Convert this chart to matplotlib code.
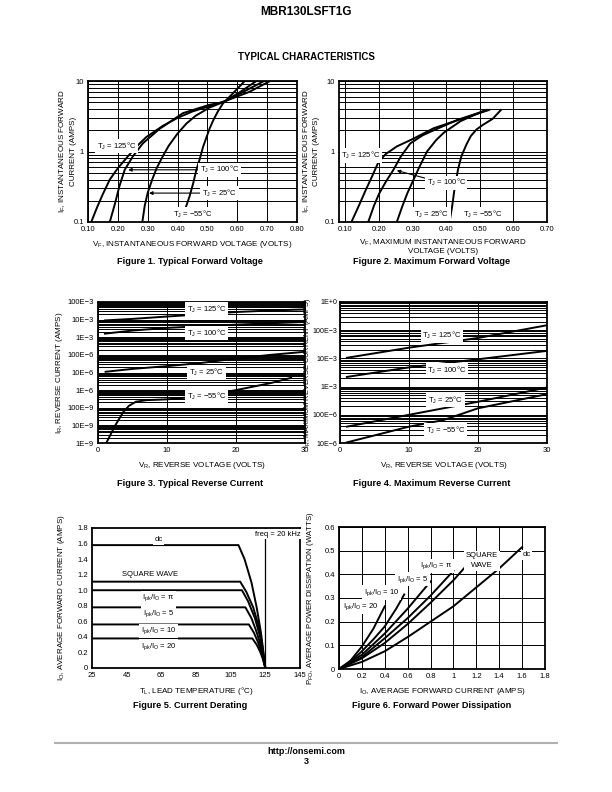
import numpy as np
import matplotlib
matplotlib.use('Agg')
import matplotlib.pyplot as plt
from matplotlib.ticker import LogLocator, NullFormatter

plt.rcParams['font.family'] = ['Liberation Sans', 'DejaVu Sans']
plt.rcParams['mathtext.fontset'] = 'custom'
plt.rcParams['mathtext.rm'] = 'Liberation Sans'
plt.rcParams['mathtext.it'] = 'Liberation Sans:italic'
plt.rcParams['mathtext.bf'] = 'Liberation Sans:bold'

# ---------------------------------------------------------------- #
#                 data                #
# ---------------------------------------------------------------- #

# Figure 1 - typical forward voltage (V, A)
f1_125_v = [0.111, 0.13, 0.15, 0.173, 0.20, 0.228, 0.26, 0.295, 0.35, 0.40, 0.45, 0.50, 0.56, 0.64, 0.71]
f1_125_i = [0.1, 0.16, 0.25, 0.4, 0.58, 0.8, 1.15, 1.6, 2.3, 3.0, 3.7, 4.3, 5.2, 7.0, 10.0]
f1_100_v = [0.173, 0.19, 0.205, 0.223, 0.25, 0.284, 0.34, 0.418, 0.507, 0.552, 0.62, 0.686]
f1_100_i = [0.1, 0.18, 0.32, 0.55, 0.85, 1.31, 2.1, 3.5, 4.6, 5.0, 7.0, 9.8]
f1_25_v = [0.282, 0.29, 0.30, 0.315, 0.33, 0.35, 0.37, 0.40, 0.43, 0.46, 0.507, 0.552, 0.61, 0.664]
f1_25_i = [0.1, 0.17, 0.26, 0.4, 0.58, 0.85, 1.2, 1.8, 2.5, 3.2, 4.2, 5.0, 7.0, 10.0]
f1_m55_v = [0.412, 0.425, 0.44, 0.452, 0.463, 0.475, 0.485, 0.497, 0.507, 0.52, 0.535, 0.552, 0.59, 0.625]
f1_m55_i = [0.1, 0.15, 0.23, 0.35, 0.55, 0.8, 1.15, 1.6, 2.1, 2.8, 3.7, 4.8, 7.0, 10.0]

# Figure 2 - maximum forward voltage (V, A)
f2_125_v = [0.118, 0.14, 0.16, 0.18, 0.198, 0.22, 0.253, 0.30, 0.363, 0.443, 0.528]
f2_125_i = [0.1, 0.17, 0.28, 0.45, 0.70, 0.92, 1.18, 1.5, 2.14, 2.87, 3.89]
f2_100_v = [0.168, 0.185, 0.20, 0.22, 0.243, 0.265, 0.293, 0.33, 0.363, 0.433, 0.523]
f2_100_i = [0.1, 0.17, 0.25, 0.37, 0.55, 0.85, 1.3, 1.7, 2.0, 2.8, 3.89]
f2_25_v = [0.253, 0.27, 0.285, 0.303, 0.32, 0.343, 0.37, 0.393, 0.443, 0.518]
f2_25_i = [0.1, 0.17, 0.26, 0.40, 0.6, 1.0, 1.45, 1.85, 2.7, 3.89]
f2_m55_v = [0.41, 0.418, 0.425, 0.435, 0.445, 0.46, 0.473, 0.49, 0.51, 0.538, 0.563]
f2_m55_i = [0.1, 0.17, 0.3, 0.55, 0.85, 1.25, 1.65, 2.05, 2.4, 2.9, 3.89]

# Figure 3 - typical reverse current (V, A)
f3_125_v = [1, 5, 10, 15, 20, 25, 30]
f3_125_i = [9e-3, 11e-3, 15e-3, 20e-3, 27e-3, 33e-3, 38e-3]
f3_100_v = [1, 5, 10, 15, 20, 25, 30]
f3_100_i = [1.6e-3, 2.4e-3, 3.4e-3, 4.2e-3, 5.2e-3, 6.2e-3, 7.4e-3]
f3_25_v = [1.1, 5, 10, 15, 20, 25, 30]
f3_25_i = [11e-6, 16e-6, 23e-6, 35e-6, 62e-6, 100e-6, 150e-6]
f3_m55_v = [1.2, 2.5, 3.7, 4.5, 5.5, 7, 10, 15, 20, 25, 28]
f3_m55_i = [1e-9, 1e-8, 6e-8, 1.3e-7, 2.2e-7, 2.7e-7, 3e-7, 4.5e-7, 1e-6, 2.5e-6, 5e-6]

# Figure 4 - maximum reverse current (V, A)
f4_125_v = [1, 10, 20, 30]
f4_125_i = [10.5e-3, 24e-3, 53e-3, 150e-3]
f4_100_v = [1, 10, 20, 30]
f4_100_i = [2.2e-3, 4.8e-3, 9.3e-3, 18.5e-3]
f4_25_v = [1, 10, 20, 30]
f4_25_i = [38e-6, 100e-6, 290e-6, 930e-6]
f4_m55_v = [1, 10, 15, 20, 30]
f4_m55_i = [10.5e-6, 38e-6, 65e-6, 170e-6, 540e-6]

# Figure 5 - current derating (degC, A)
f5_dc_t = [25, 109.5, 113, 117, 120, 122.5, 125]
f5_dc_i = [1.58, 1.58, 1.40, 1.10, 0.78, 0.45, 0.0]
f5_sq_t = [25, 110.5, 114, 118, 121, 123, 125]
f5_sq_i = [1.11, 1.11, 0.98, 0.78, 0.55, 0.33, 0.0]
f5_pi_t = [25, 111.5, 115, 119, 122, 125]
f5_pi_i = [1.0, 1.0, 0.86, 0.64, 0.40, 0.0]
f5_5_t = [25, 113.5, 117, 120, 122.5, 125]
f5_5_i = [0.78, 0.78, 0.64, 0.46, 0.28, 0.0]
f5_10_t = [25, 115.5, 118.5, 121, 123, 125]
f5_10_i = [0.56, 0.56, 0.45, 0.32, 0.19, 0.0]
f5_20_t = [25, 117.5, 120, 122, 123.5, 125]
f5_20_i = [0.38, 0.38, 0.30, 0.21, 0.12, 0.0]

# Figure 6 - forward power dissipation (A, W)
f6_dc_i = [0, 0.2, 0.4, 0.6, 0.8, 1.0, 1.2, 1.4, 1.6]
f6_dc_p = [0, 0.03, 0.075, 0.135, 0.2, 0.265, 0.345, 0.425, 0.515]
f6_sq_i = [0, 0.2, 0.4, 0.6, 0.8, 1.0, 1.11]
f6_sq_p = [0, 0.045, 0.11, 0.19, 0.28, 0.375, 0.435]
f6_pi_i = [0, 0.2, 0.4, 0.6, 0.8, 1.0]
f6_pi_p = [0, 0.05, 0.13, 0.215, 0.31, 0.415]
f6_5_i = [0, 0.2, 0.4, 0.6, 0.8]
f6_5_p = [0, 0.06, 0.15, 0.255, 0.37]
f6_10_i = [0, 0.1, 0.2, 0.3, 0.4, 0.5, 0.57]
f6_10_p = [0, 0.03, 0.075, 0.125, 0.18, 0.255, 0.315]
f6_20_i = [0, 0.1, 0.2, 0.3, 0.4]
f6_20_p = [0, 0.035, 0.095, 0.17, 0.265]

rev3_labels = ['1E\u22129', '10E\u22129', '100E\u22129', '1E\u22126', '10E\u22126', '100E\u22126',
               '1E\u22123', '10E\u22123', '100E\u22123']
rev4_labels = ['10E\u22126', '100E\u22126', '1E\u22123', '10E\u22123', '100E\u22123', '1E+0']

TJ = 'T$_\\mathregular{J}$ = '
IPK = 'I$_\\mathregular{pk}$/I$_\\mathregular{O}$ = '

# ---------------------------------------------------------------- #
#                           page layout                             #
# ---------------------------------------------------------------- #

W, H = 612.0, 792.0
fig = plt.figure(figsize=(6.12, 7.92), dpi=100)


def px_axes(l, t, r, b):
    return fig.add_axes([l / W, 1 - b / H, (r - l) / W, (b - t) / H])


def style(ax):
    for s in ax.spines.values():
        s.set_linewidth(1.3)
    ax.tick_params(which='both', length=0, labelsize=5.5, pad=3)
    ax.set_axisbelow(True)


def label(ax, x, y, s, **kw):
    ax.text(x, y, s, fontsize=5.5, ha='center', va='center', zorder=5,
            bbox=dict(facecolor='white', edgecolor='none', pad=1.2), **kw)


def ptext(x, y, s, size=6.5, weight='normal', **kw):
    fig.text(x / W, 1 - y / H, s, fontsize=size, weight=weight, ha='center', va='center', **kw)


def ylab(ax, s, xpx, l, r, size=5.8, **kw):
    # xpx is the right-hand edge of the rotated label, in page pixels
    ax.set_ylabel(s, fontsize=size, **kw)
    ax.yaxis.set_label_coords((xpx - l) / (r - l), 0.5)


lw = 1.4
gkw = dict(color='black', linewidth=0.7)
akw = dict(arrowstyle='-|>', color='black', lw=0.8, mutation_scale=5)

# header / footer
ptext(306, 12, 'MBR130LSFT1G', size=8.5, weight='bold')
ptext(306, 57, 'TYPICAL CHARACTERISTICS', size=7, weight='bold')
fig.add_artist(plt.Line2D([55 / W, 557 / W], [1 - 743 / H, 1 - 743 / H], color='#b0b0b0', lw=1.5))
ptext(306, 752, 'http://onsemi.com', size=6.5, weight='bold')
ptext(306, 761, '3', size=6.5, weight='bold')

# ---------------------- Figure 1 ----------------------
ax = px_axes(88, 81, 297, 222)
style(ax)
ax.set_yscale('log')
ax.set_xlim(0.10, 0.80)
ax.set_ylim(0.1, 10)
ax.set_xticks(np.arange(0.1, 0.81, 0.1))
ax.set_xticklabels(['%.2f' % v for v in np.arange(0.1, 0.81, 0.1)])
ax.set_yticks([0.1, 1, 10])
ax.set_yticklabels(['0.1', '1', '10'])
ax.yaxis.set_minor_locator(LogLocator(subs=np.arange(2, 10)))
ax.yaxis.set_minor_formatter(NullFormatter())
ax.grid(which='both', **gkw)
for v, i in [(f1_125_v, f1_125_i), (f1_100_v, f1_100_i), (f1_25_v, f1_25_i), (f1_m55_v, f1_m55_i)]:
    ax.plot(v, i, color='black', lw=lw)
label(ax, 0.195, 1.2, TJ + '125°C')
ax.annotate('', xy=(0.225, 0.55), xytext=(0.48, 0.55), arrowprops=akw)
label(ax, 0.54, 0.55, TJ + '100°C')
ax.annotate('', xy=(0.295, 0.257), xytext=(0.49, 0.257), arrowprops=akw)
label(ax, 0.54, 0.257, TJ + '25°C')
label(ax, 0.452, 0.13, TJ + '\u221255°C')
ax.set_xlabel('V$_\\mathregular{F}$, INSTANTANEOUS FORWARD VOLTAGE (VOLTS)', fontsize=5.8, labelpad=4)
ylab(ax, 'I$_\\mathregular{F}$, INSTANTANEOUS FORWARD\nCURRENT (AMPS)', 77, 88, 297, linespacing=1.3)
ptext(190, 261, 'Figure 1. Typical Forward Voltage', size=6.6, weight='bold')

# ---------------------- Figure 2 ----------------------
ax = px_axes(339, 81, 547, 222)
style(ax)
ax.set_yscale('log')
ax.set_xlim(0.081, 0.70)
ax.set_ylim(0.1, 10)
ax.set_xticks(np.arange(0.1, 0.71, 0.1))
ax.set_xticklabels(['%.2f' % v for v in np.arange(0.1, 0.71, 0.1)])
ax.set_yticks([0.1, 1, 10])
ax.set_yticklabels(['0.1', '1', '10'])
ax.yaxis.set_minor_locator(LogLocator(subs=np.arange(2, 10)))
ax.yaxis.set_minor_formatter(NullFormatter())
ax.grid(which='both', **gkw)
for v, i in [(f2_125_v, f2_125_i), (f2_100_v, f2_100_i), (f2_25_v, f2_25_i), (f2_m55_v, f2_m55_i)]:
    ax.plot(v, i, color='black', lw=lw)
label(ax, 0.146, 0.87, TJ + '125°C')
ax.annotate('', xy=(0.245, 0.55), xytext=(0.37, 0.38), arrowprops=akw)
label(ax, 0.40, 0.36, TJ + '100°C')
label(ax, 0.356, 0.13, TJ + '25°C')
label(ax, 0.51, 0.13, TJ + '\u221255°C')
ax.set_xlabel('V$_\\mathregular{F}$, MAXIMUM INSTANTANEOUS FORWARD\nVOLTAGE (VOLTS)', fontsize=5.8,
              labelpad=3, linespacing=1.15)
ylab(ax, 'I$_\\mathregular{F}$, INSTANTANEOUS FORWARD\nCURRENT (AMPS)', 320, 339, 547, linespacing=1.3)
ptext(432, 261, 'Figure 2. Maximum Forward Voltage', size=6.6, weight='bold')

# ---------------------- Figure 3 ----------------------
ax = px_axes(98, 302, 305, 443)
style(ax)
ax.set_yscale('log')
ax.set_xlim(0, 30)
ax.set_ylim(1e-9, 1e-1)
ax.set_xticks([0, 10, 20, 30])
ax.set_yticks([10.0 ** k for k in range(-9, 0)])
ax.set_yticklabels(rev3_labels)
ax.yaxis.set_minor_locator(LogLocator(subs=np.arange(2, 10), numticks=20))
ax.yaxis.set_minor_formatter(NullFormatter())
ax.grid(which='both', **gkw)
for v, i in [(f3_125_v, f3_125_i), (f3_100_v, f3_100_i), (f3_25_v, f3_25_i), (f3_m55_v, f3_m55_i)]:
    ax.plot(v, i, color='black', lw=lw)
label(ax, 15.7, 10 ** (-1 - 23 / 53), TJ + '125°C')
label(ax, 15.7, 10 ** (-1 - 93 / 53), TJ + '100°C')
label(ax, 15.7, 10 ** (-1 - 213 / 53), TJ + '25°C')
label(ax, 15.7, 10 ** (-1 - 285 / 53), TJ + '\u221255°C')
ax.set_xlabel('V$_\\mathregular{R}$, REVERSE VOLTAGE (VOLTS)', fontsize=5.8, labelpad=4)
ylab(ax, 'I$_\\mathregular{R}$, REVERSE CURRENT (AMPS)', 65, 98, 305)
ptext(190, 483, 'Figure 3. Typical Reverse Current', size=6.6, weight='bold')

# ---------------------- Figure 4 ----------------------
ax = px_axes(340, 302, 547, 443)
style(ax)
ax.tick_params(axis='y', labelsize=5.1, pad=2)
ax.set_yscale('log')
ax.set_xlim(0, 30)
ax.set_ylim(1e-5, 1)
ax.set_xticks([0, 10, 20, 30])
ax.set_yticks([10.0 ** k for k in range(-5, 1)])
ax.set_yticklabels(rev4_labels)
ax.yaxis.set_minor_locator(LogLocator(subs=np.arange(2, 10), numticks=20))
ax.yaxis.set_minor_formatter(NullFormatter())
ax.grid(which='both', **gkw)
for v, i in [(f4_125_v, f4_125_i), (f4_100_v, f4_100_i), (f4_25_v, f4_25_i), (f4_m55_v, f4_m55_i)]:
    ax.plot(v, i, color='black', lw=lw)
label(ax, 14.8, 10 ** (-100 / 84.8), TJ + '125°C')
label(ax, 15.5, 10 ** (-205 / 84.8), TJ + '100°C')
label(ax, 15.3, 10 ** (-295 / 84.8), TJ + '25°C')
label(ax, 15.3, 10 ** (-385 / 84.8), TJ + '\u221255°C')
ax.set_xlabel('V$_\\mathregular{R}$, REVERSE VOLTAGE (VOLTS)', fontsize=5.8, labelpad=4)
ylab(ax, 'I$_\\mathregular{R}$, MAXIMUM REVERSE CURRENT (AMPS)', 313, 340, 547, size=5.3)
ptext(432, 483, 'Figure 4. Maximum Reverse Current', size=6.6, weight='bold')

# ---------------------- Figure 5 ----------------------
ax = px_axes(92, 528, 300, 668)
style(ax)
ax.set_xlim(25, 145)
ax.set_ylim(0, 1.8)
ax.set_xticks(np.arange(25, 146, 20))
ax.set_yticks(np.arange(0, 1.81, 0.2))
ax.set_yticklabels(['0'] + ['%.1f' % v for v in np.arange(0.2, 1.81, 0.2)])
ax.axvline(125, color='black', lw=0.9, zorder=1)
for t, i in [(f5_dc_t, f5_dc_i), (f5_sq_t, f5_sq_i), (f5_pi_t, f5_pi_i), (f5_5_t, f5_5_i),
             (f5_10_t, f5_10_i), (f5_20_t, f5_20_i)]:
    ax.plot(t, i, color='black', lw=lw)
label(ax, 63.4, 1.65, 'dc')
label(ax, 132, 1.72, 'freq = 20 kHz')
label(ax, 58.6, 1.2, 'SQUARE WAVE')
label(ax, 63.4, 0.90, IPK + '\u03c0')
label(ax, 63.4, 0.70, IPK + '5')
label(ax, 63.4, 0.48, IPK + '10')
label(ax, 63.4, 0.28, IPK + '20')
ax.set_xlabel('T$_\\mathregular{L}$, LEAD TEMPERATURE (°C)', fontsize=5.8, labelpad=4)
ylab(ax, 'I$_\\mathregular{O}$, AVERAGE FORWARD CURRENT (AMPS)', 67, 92, 300)
ptext(190, 706, 'Figure 5. Current Derating', size=6.6, weight='bold')

# ---------------------- Figure 6 ----------------------
ax = px_axes(339, 527, 545, 669)
style(ax)
ax.set_xlim(0, 1.8)
ax.set_ylim(0, 0.6)
ax.set_xticks(np.arange(0, 1.81, 0.2))
ax.set_xticklabels(['0', '0.2', '0.4', '0.6', '0.8', '1', '1.2', '1.4', '1.6', '1.8'])
ax.set_yticks(np.arange(0, 0.61, 0.1))
ax.set_yticklabels(['0', '0.1', '0.2', '0.3', '0.4', '0.5', '0.6'])
ax.grid(which='major', **gkw)
for c, p in [(f6_dc_i, f6_dc_p), (f6_sq_i, f6_sq_p), (f6_pi_i, f6_pi_p), (f6_5_i, f6_5_p),
             (f6_10_i, f6_10_p), (f6_20_i, f6_20_p)]:
    ax.plot(c, p, color='black', lw=lw)
label(ax, 0.85, 0.436, IPK + '\u03c0')
label(ax, 0.64, 0.379, IPK + '5')
label(ax, 0.37, 0.323, IPK + '10')
label(ax, 0.19, 0.263, IPK + '20')
label(ax, 1.25, 0.457, 'SQUARE\nWAVE', linespacing=1.6)
label(ax, 1.64, 0.483, 'dc')
ax.set_xlabel('I$_\\mathregular{O}$, AVERAGE FORWARD CURRENT (AMPS)', fontsize=5.8, labelpad=4)
ylab(ax, 'P$_\\mathregular{FO}$, AVERAGE POWER DISSIPATION (WATTS)', 316, 339, 545, size=5.6)
ptext(432, 706, 'Figure 6. Forward Power Dissipation', size=6.6, weight='bold')

fig.savefig('out.png', dpi=100)
